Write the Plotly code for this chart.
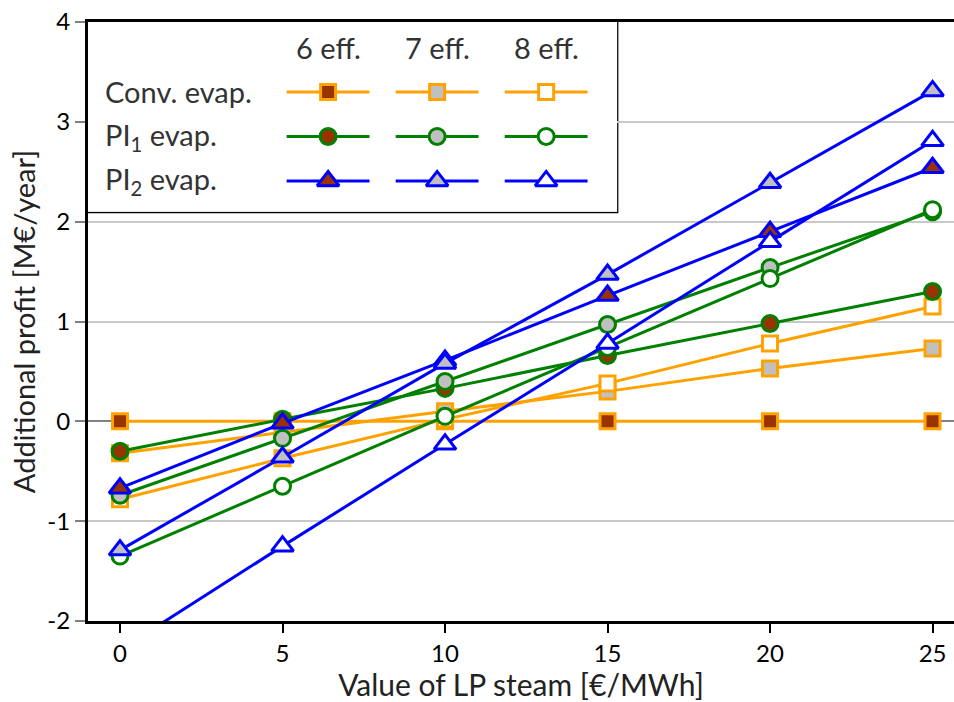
import plotly.graph_objects as go

# ---------------- data ----------------
steam_value = [0, 5, 10, 15, 20, 25]

conv_6 = [0.00, 0.00, 0.00, 0.00, 0.00, 0.00]
conv_7 = [-0.32, -0.11, 0.10, 0.30, 0.53, 0.73]
conv_8 = [-0.78, -0.37, 0.02, 0.38, 0.78, 1.15]

pi1_6 = [-0.30, 0.02, 0.33, 0.66, 0.98, 1.30]
pi1_7 = [-0.74, -0.17, 0.40, 0.97, 1.54, 2.10]
pi1_8 = [-1.35, -0.65, 0.05, 0.74, 1.43, 2.12]

pi2_6 = [-0.67, -0.02, 0.61, 1.26, 1.90, 2.54]
pi2_7 = [-1.29, -0.36, 0.58, 1.47, 2.39, 3.31]
pi2_8 = [-2.29, -1.25, -0.23, 0.78, 1.80, 2.81]

effects = ["6 eff.", "7 eff.", "8 eff."]
row_labels = ["Conv. evap.", "PI<sub>1</sub> evap.", "PI<sub>2</sub> evap."]
x_ticks = [0, 5, 10, 15, 20, 25]
y_ticks = [-2, -1, 0, 1, 2, 3, 4]
y_tick_text = ["-2", "-1", "0", "1", "2", "3", "4"]

# ---------------- styles ----------------
FONT = "Lato"
ORANGE = "#FFA200"
GREEN = "#008000"
BLUE = "#0000FF"
FILLS = ["#993300", "#C0C0C0", "#FFFFFF"]

groups = [
    (ORANGE, "square", 15, [conv_6, conv_7, conv_8]),
    (GREEN, "circle", 16, [pi1_6, pi1_7, pi1_8]),
    (BLUE, "triangle-up", 19, [pi2_6, pi2_7, pi2_8]),
]

fig = go.Figure()

for gi, (color, symbol, msize, series) in enumerate(groups):
    for ei, ys in enumerate(series):
        fig.add_trace(go.Scatter(
            x=steam_value, y=ys, mode="lines+markers",
            line=dict(color=color, width=3),
            marker=dict(symbol=symbol, size=msize, color=FILLS[ei],
                        line=dict(color=color, width=3)),
            showlegend=False, hoverinfo="skip",
        ))

# ---------------- legend table (on its own axis pair) ----------------
LEG_X1 = 0.611
LEG_Y0 = 0.683
half = 0.38
for gi, (color, symbol, msize, series) in enumerate(groups):
    row = gi + 1
    for ei in range(3):
        col = ei + 1
        fig.add_trace(go.Scatter(
            x=[col - half, col + half], y=[row, row], mode="lines",
            line=dict(color=color, width=3),
            xaxis="x2", yaxis="y2", showlegend=False, hoverinfo="skip",
        ))
        fig.add_trace(go.Scatter(
            x=[col], y=[row], mode="markers",
            marker=dict(symbol=symbol, size=msize, color=FILLS[ei],
                        line=dict(color=color, width=3)),
            xaxis="x2", yaxis="y2", showlegend=False, hoverinfo="skip",
        ))

LEG_FONT = dict(family=FONT, size=29, color="#333333")
annotations = []
for ei, lab in enumerate(effects):
    annotations.append(dict(x=ei + 1, y=0, xref="x2", yref="y2", text=lab,
                            showarrow=False, xanchor="center", yanchor="middle",
                            font=LEG_FONT))
for ri, lab in enumerate(row_labels):
    annotations.append(dict(x=-1.06, y=ri + 1, xref="x2", yref="y2", text=lab,
                            showarrow=False, xanchor="left", yanchor="middle",
                            font=LEG_FONT))

shapes = [dict(type="rect", xref="paper", yref="paper", x0=0, x1=LEG_X1,
               y0=LEG_Y0, y1=1, line=dict(color="black", width=2.5),
               fillcolor="white", layer="below")]

fig.update_layout(
    width=954, height=702,
    margin=dict(l=88, r=0, t=22, b=81),
    paper_bgcolor="white", plot_bgcolor="white",
    font=dict(family=FONT, size=24, color="black"),
    shapes=shapes, annotations=annotations,
    xaxis=dict(
        range=[-0.985, 25.66], tickvals=x_ticks, ticks="outside", ticklen=9,
        tickwidth=2, tickcolor="black", showgrid=False, zeroline=False,
        showline=True, linecolor="black", linewidth=3, mirror=True,
        tickfont=dict(family=FONT, size=24, color="black"),
        title=dict(text="Value of LP steam [€/MWh]", standoff=7,
                   font=dict(family=FONT, size=30, color="#222222")),
    ),
    yaxis=dict(
        range=[-2, 4], tickvals=y_ticks, ticktext=y_tick_text,
        ticks="outside", ticklen=10,
        tickwidth=1.5, tickcolor="#808080", showgrid=True, gridcolor="#C8C8C8",
        gridwidth=1.5, zeroline=True, zerolinecolor="#808080", zerolinewidth=1.5,
        showline=True, linecolor="black", linewidth=3, mirror=False,
        tickfont=dict(family=FONT, size=24, color="black"),
        title=dict(text="Additional profit [M€/year]", standoff=4,
                   font=dict(family=FONT, size=29, color="#222222")),
    ),
    xaxis2=dict(domain=[0, LEG_X1], range=[-1.202, 3.651], anchor="y2",
                visible=False, fixedrange=True),
    yaxis2=dict(domain=[LEG_Y0, 1], range=[3.697, -0.573], anchor="x2",
                visible=False, fixedrange=True),
)

fig.write_html("out.html", config={"displayModeBar": False},
               post_script="document.body.style.margin='0';")
